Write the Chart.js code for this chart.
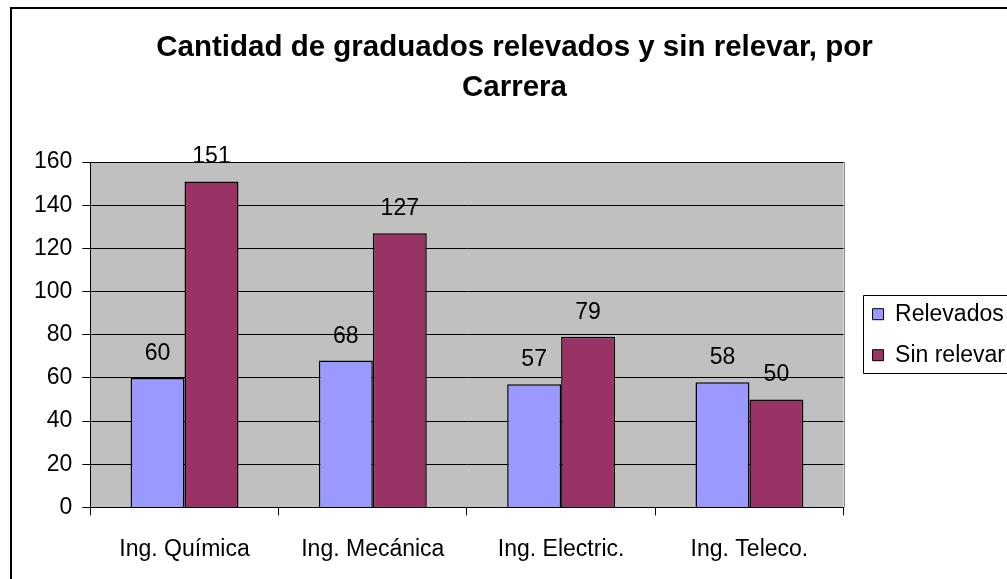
<!DOCTYPE html>
<html>
<head>
<meta charset="utf-8">
<script src="https://cdn.jsdelivr.net/npm/chart.js@4"></script>
<style>
    html, body { margin: 0; padding: 0; background: #fff; overflow: hidden; }
    #wrap { position: absolute; left: 0; top: 0; width: 1015px; height: 579px; }
</style>
</head>
<body>
<div id="wrap"><canvas id="graduadosChart"></canvas></div>
<script>
// Chart data
const categories = ['Ing. Química', 'Ing. Mecánica', 'Ing. Electric.', 'Ing. Teleco.'];
const relevados = [60, 68, 57, 58];
const sinRelevar = [151, 127, 79, 50];
const yTicks = [0, 20, 40, 60, 80, 100, 120, 140, 160];

const FONT = 'Arial, "Liberation Sans", sans-serif';

// Gray plot area, outer frame and legend frame
const framePlugin = {
    id: 'frame',
    beforeDraw(chart) {
        const { ctx, chartArea } = chart;
        ctx.save();
        ctx.fillStyle = '#C0C0C0';
        ctx.fillRect(chartArea.left, chartArea.top, chartArea.right - chartArea.left, chartArea.bottom - chartArea.top);
        ctx.strokeStyle = '#000';
        ctx.lineWidth = 2;
        ctx.strokeRect(11, 8, 1200, 800);
        ctx.restore();
    },
    afterDraw(chart) {
        const { ctx, chartArea } = chart;
        ctx.save();
        ctx.strokeStyle = '#8a8a8a';
        ctx.lineWidth = 1;
        ctx.beginPath();
        ctx.moveTo(Math.round(chartArea.right) + 0.5, chartArea.top);
        ctx.lineTo(Math.round(chartArea.right) + 0.5, chartArea.bottom);
        ctx.stroke();

        const boxes = chart.legend.legendHitBoxes;
        if (boxes && boxes.length) {
            const first = boxes[0];
            const last = boxes[boxes.length - 1];
            const left = Math.round(first.left) - 9.5;
            const top = Math.round(first.top) - 7.5;
            const bottom = Math.round(last.top + last.height) + 6.5;
            ctx.strokeStyle = '#000';
            ctx.beginPath();
            ctx.rect(left, top, 400, bottom - top);
            ctx.stroke();
        }
        ctx.restore();
    }
};

// Value labels above each bar
const valueLabels = {
    id: 'valueLabels',
    afterDatasetsDraw(chart) {
        const { ctx } = chart;
        ctx.save();
        ctx.font = '23px ' + FONT;
        ctx.fillStyle = '#000';
        ctx.textAlign = 'center';
        ctx.textBaseline = 'alphabetic';
        chart.data.datasets.forEach((ds, i) => {
            chart.getDatasetMeta(i).data.forEach((bar, j) => {
                ctx.fillText(ds.data[j], bar.x, bar.y - 18);
            });
        });
        ctx.restore();
    }
};

const ctx = document.getElementById('graduadosChart').getContext('2d');
new Chart(ctx, {
    type: 'bar',
    data: {
        labels: categories,
        datasets: [{
            label: 'Relevados',
            data: relevados,
            backgroundColor: '#9999FF',
            borderColor: '#000',
            borderWidth: 1.5
        }, {
            label: 'Sin relevar',
            data: sinRelevar,
            backgroundColor: '#993366',
            borderColor: '#000',
            borderWidth: 1.5
        }]
    },
    options: {
        responsive: true,
        maintainAspectRatio: false,
        animation: false,
        categoryPercentage: 0.573,
        barPercentage: 1,
        layout: { padding: { left: 14, right: 0, top: 0, bottom: -4 } },
        plugins: {
            title: {
                display: true,
                text: ['Cantidad de graduados relevados y sin relevar, por', 'Carrera'],
                color: '#000',
                font: { family: FONT, size: 29.5, weight: 'bold', lineHeight: 40 / 29.5 },
                padding: { top: 28, bottom: 54 }
            },
            legend: {
                display: true,
                position: 'right',
                fullSize: false,
                labels: {
                    color: '#000',
                    font: { family: FONT, size: 23 },
                    boxWidth: 11,
                    boxHeight: 11,
                    padding: 18,
                    generateLabels(chart) {
                        return chart.data.datasets.map((ds, i) => ({
                            text: ds.label,
                            fillStyle: ds.backgroundColor,
                            strokeStyle: '#000',
                            lineWidth: 1,
                            datasetIndex: i,
                            hidden: false
                        }));
                    }
                }
            },
            tooltip: { enabled: false }
        },
        scales: {
            x: {
                grid: {
                    display: true,
                    offset: true,
                    drawOnChartArea: false,
                    drawTicks: true,
                    tickLength: 8,
                    color: '#000'
                },
                border: { display: true, color: '#000', width: 1 },
                ticks: { color: '#000', font: { family: FONT, size: 23 }, padding: 20 }
            },
            y: {
                min: 0,
                max: 160,
                afterBuildTicks(axis) {
                    axis.ticks = yTicks.map(v => ({ value: v }));
                },
                afterFit(axis) {
                    axis.width += 10;
                },
                grid: {
                    color: '#000',
                    lineWidth: 1,
                    drawTicks: true,
                    tickLength: 8
                },
                border: { display: true, color: '#000', width: 1 },
                ticks: { color: '#000', font: { family: FONT, size: 23 }, padding: 10 }
            },
            // empty right-side spacer between plot and legend
            gap: {
                type: 'linear',
                position: 'right',
                display: true,
                grid: { display: false },
                border: { display: false },
                ticks: { display: false },
                afterFit(axis) {
                    axis.width = 11;
                }
            }
        }
    },
    plugins: [framePlugin, valueLabels]
});
</script>
</body>
</html>
